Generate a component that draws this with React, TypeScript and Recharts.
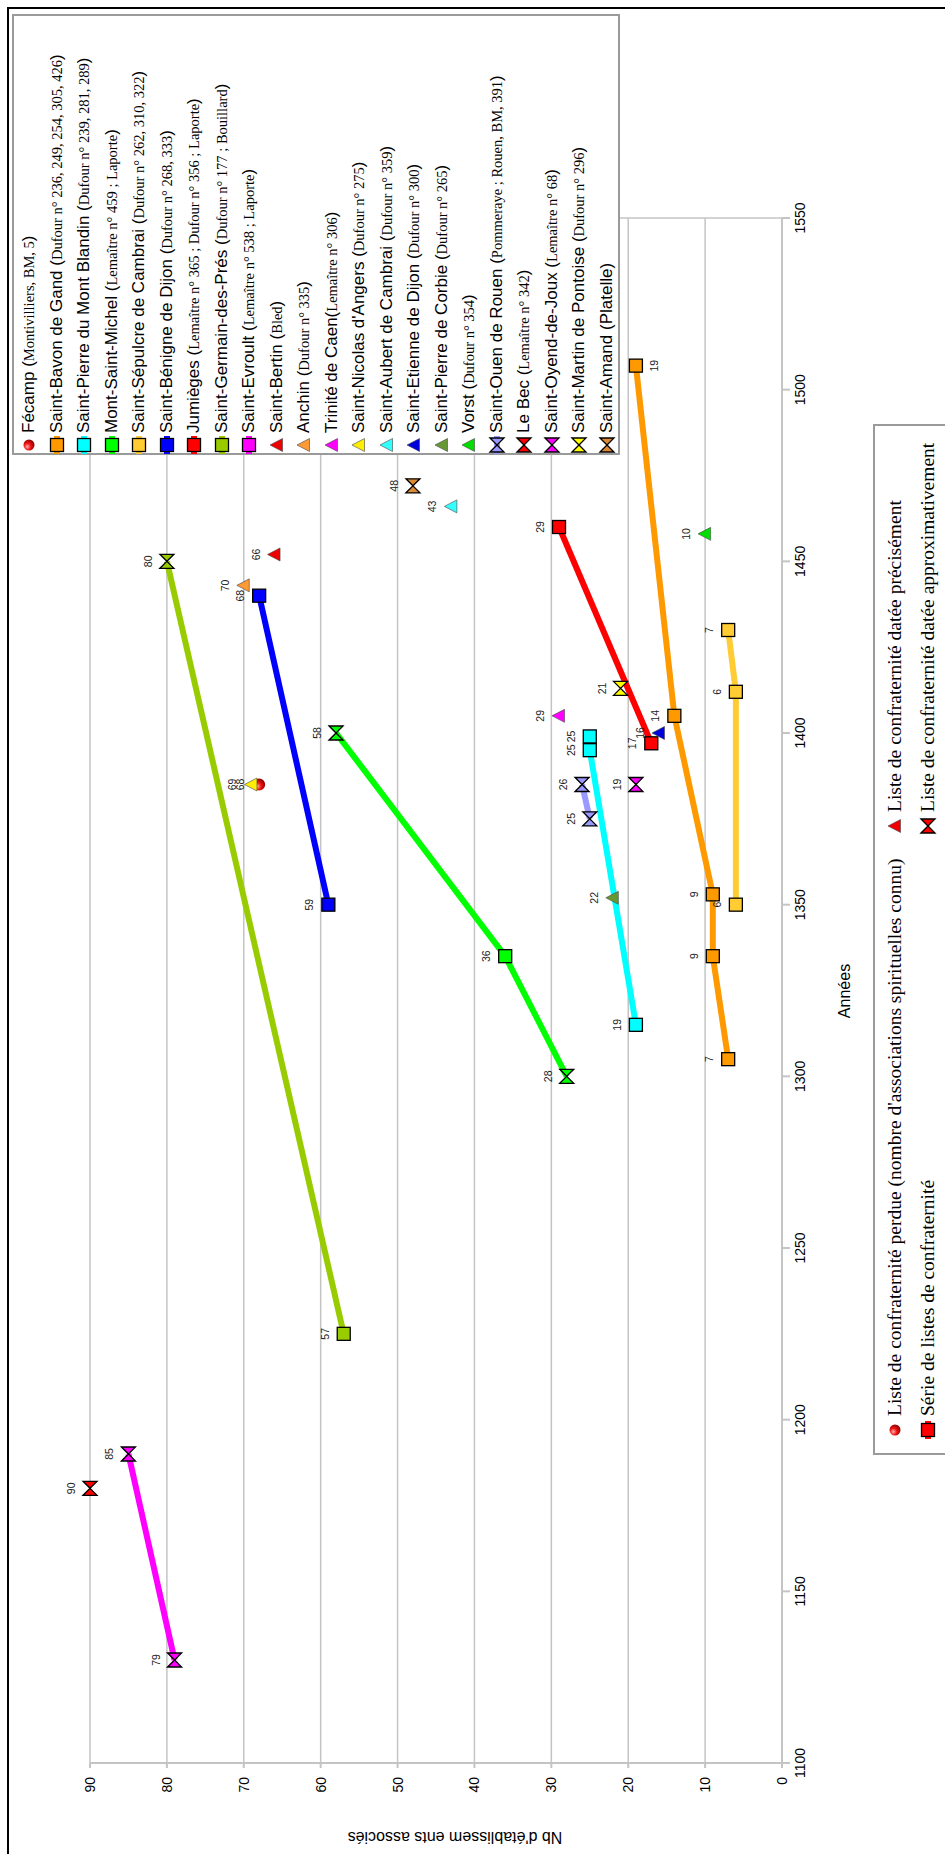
import React from "react";
import { ScatterChart, Scatter, XAxis, YAxis, CartesianGrid, ReferenceLine } from "recharts";

type Mark = "sq" | "hg" | "tri" | "dot";

// axes
const yearTicks = [1100, 1150, 1200, 1250, 1300, 1350, 1400, 1450, 1500, 1550];
const countTicks = [0, 10, 20, 30, 40, 50, 60, 70, 80, 90];

// séries (années / nombre d'établissements / type de marque)
const fecampYears = [1385];
const fecampCounts = [68];
const fecampMarks: Mark[] = ["dot"];

const bavonYears = [1305, 1335, 1353, 1405, 1507];
const bavonCounts = [7, 9, 9, 14, 19];
const bavonMarks: Mark[] = ["sq", "sq", "sq", "sq", "sq"];
const bavonLabelBelow = [false, false, false, false, true];

const blandinYears = [1315, 1395, 1399];
const blandinCounts = [19, 25, 25];
const blandinMarks: Mark[] = ["sq", "sq", "sq"];

const michelYears = [1300, 1335, 1400];
const michelCounts = [28, 36, 58];
const michelMarks: Mark[] = ["hg", "sq", "hg"];

const sepulcreYears = [1350, 1412, 1430];
const sepulcreCounts = [6, 6, 7];
const sepulcreMarks: Mark[] = ["sq", "sq", "sq"];

const benigneYears = [1350, 1440];
const benigneCounts = [59, 68];
const benigneMarks: Mark[] = ["sq", "sq"];

const jumiegesYears = [1397, 1460];
const jumiegesCounts = [17, 29];
const jumiegesMarks: Mark[] = ["sq", "sq"];

const germainYears = [1225, 1450];
const germainCounts = [57, 80];
const germainMarks: Mark[] = ["sq", "hg"];

const evroultYears = [1130, 1190];
const evroultCounts = [79, 85];
const evroultMarks: Mark[] = ["hg", "hg"];

const bertinYears = [1452];
const bertinCounts = [66];
const anchinYears = [1443];
const anchinCounts = [70];
const caenYears = [1405];
const caenCounts = [29];
const angersYears = [1385];
const angersCounts = [69];
const aubertYears = [1466];
const aubertCounts = [43];
const etienneYears = [1400];
const etienneCounts = [16];
const corbieYears = [1352];
const corbieCounts = [22];
const vorstYears = [1458];
const vorstCounts = [10];

const ouenYears = [1375, 1385];
const ouenCounts = [25, 26];
const ouenMarks: Mark[] = ["hg", "hg"];

const becYears = [1180];
const becCounts = [90];
const oyendYears = [1385];
const oyendCounts = [19];
const pontoiseYears = [1413];
const pontoiseCounts = [21];
const amandYears = [1472];
const amandCounts = [48];

type Serie = {
  name: string;
  detail: string;
  color: string;
  line: boolean;
  legendMark: Mark;
  years: number[];
  counts: number[];
  marks: Mark[];
  below?: boolean[];
};

const one = (m: Mark) => [m];

const series: Serie[] = [
  { name: "Fécamp", detail: "Montivilliers, BM, 5", color: "#e00000", line: false, legendMark: "dot", years: fecampYears, counts: fecampCounts, marks: fecampMarks },
  { name: "Saint-Bavon de Gand", detail: "Dufour n° 236, 249, 254, 305, 426", color: "#ff9900", line: true, legendMark: "sq", years: bavonYears, counts: bavonCounts, marks: bavonMarks, below: bavonLabelBelow },
  { name: "Saint-Pierre du Mont Blandin", detail: "Dufour n° 239, 281, 289", color: "#00ffff", line: true, legendMark: "sq", years: blandinYears, counts: blandinCounts, marks: blandinMarks },
  { name: "Mont-Saint-Michel", detail: "Lemaître n° 459 ; Laporte", color: "#00ff00", line: true, legendMark: "sq", years: michelYears, counts: michelCounts, marks: michelMarks },
  { name: "Saint-Sépulcre de Cambrai", detail: "Dufour n° 262, 310, 322", color: "#ffcc33", line: true, legendMark: "sq", years: sepulcreYears, counts: sepulcreCounts, marks: sepulcreMarks },
  { name: "Saint-Bénigne de Dijon", detail: "Dufour n° 268, 333", color: "#0000ff", line: true, legendMark: "sq", years: benigneYears, counts: benigneCounts, marks: benigneMarks },
  { name: "Jumièges", detail: "Lemaître n° 365 ; Dufour n° 356 ; Laporte", color: "#ff0000", line: true, legendMark: "sq", years: jumiegesYears, counts: jumiegesCounts, marks: jumiegesMarks },
  { name: "Saint-Germain-des-Prés", detail: "Dufour n° 177 ; Bouillard", color: "#99cc00", line: true, legendMark: "sq", years: germainYears, counts: germainCounts, marks: germainMarks },
  { name: "Saint-Evroult", detail: "Lemaître n° 538 ; Laporte", color: "#ff00ff", line: true, legendMark: "sq", years: evroultYears, counts: evroultCounts, marks: evroultMarks },
  { name: "Saint-Bertin", detail: "Bled", color: "#ee0000", line: false, legendMark: "tri", years: bertinYears, counts: bertinCounts, marks: one("tri") },
  { name: "Anchin", detail: "Dufour n° 335", color: "#ff9933", line: false, legendMark: "tri", years: anchinYears, counts: anchinCounts, marks: one("tri") },
  { name: "Trinité de Caen", detail: "Lemaître n° 306", color: "#ff00ff", line: false, legendMark: "tri", years: caenYears, counts: caenCounts, marks: one("tri") },
  { name: "Saint-Nicolas d'Angers", detail: "Dufour n° 275", color: "#ffee00", line: false, legendMark: "tri", years: angersYears, counts: angersCounts, marks: one("tri") },
  { name: "Saint-Aubert de Cambrai", detail: "Dufour n° 359", color: "#33ffff", line: false, legendMark: "tri", years: aubertYears, counts: aubertCounts, marks: one("tri") },
  { name: "Saint-Etienne de Dijon", detail: "Dufour n° 300", color: "#0000dd", line: false, legendMark: "tri", years: etienneYears, counts: etienneCounts, marks: one("tri") },
  { name: "Saint-Pierre de Corbie", detail: "Dufour n° 265", color: "#669933", line: false, legendMark: "tri", years: corbieYears, counts: corbieCounts, marks: one("tri") },
  { name: "Vorst", detail: "Dufour n° 354", color: "#00dd00", line: false, legendMark: "tri", years: vorstYears, counts: vorstCounts, marks: one("tri") },
  { name: "Saint-Ouen de Rouen", detail: "Pommeraye ; Rouen, BM, 391", color: "#9999ff", line: true, legendMark: "hg", years: ouenYears, counts: ouenCounts, marks: ouenMarks },
  { name: "Le Bec", detail: "Lemaître n° 342", color: "#ff0000", line: false, legendMark: "hg", years: becYears, counts: becCounts, marks: one("hg") },
  { name: "Saint-Oyend-de-Joux", detail: "Lemaître n° 68", color: "#ff00ff", line: false, legendMark: "hg", years: oyendYears, counts: oyendCounts, marks: one("hg") },
  { name: "Saint-Martin de Pontoise", detail: "Dufour n° 296", color: "#ffff00", line: false, legendMark: "hg", years: pontoiseYears, counts: pontoiseCounts, marks: one("hg") },
  { name: "Saint-Amand", detail: "Platelle", color: "#dd8833", line: false, legendMark: "hg", years: amandYears, counts: amandCounts, marks: one("hg") },
];

const typeLegend = [
  { mark: "dot" as Mark, color: "#e00000", label: "Liste de confraternité perdue (nombre d'associations spirituelles connu)" },
  { mark: "sq" as Mark, color: "#ff0000", label: "Série de listes de confraternité" },
  { mark: "tri" as Mark, color: "#ee0000", label: "Liste de confraternité datée précisément" },
  { mark: "hg" as Mark, color: "#ff0000", label: "Liste de confraternité datée approximativement" },
];

const SANS = "Arial, 'Liberation Sans', sans-serif";
const SERIF = "'Times New Roman', 'Liberation Serif', serif";

function drawMark(kind: Mark, cx: number, cy: number, color: string) {
  if (kind === "sq") {
    return <rect x={cx - 6.5} y={cy - 6.5} width={13} height={13} fill={color} stroke="#000" strokeWidth={1.3} />;
  }
  if (kind === "hg") {
    const d = `M${cx - 7},${cy - 7} L${cx},${cy} L${cx - 7},${cy + 7} Z M${cx + 7},${cy - 7} L${cx},${cy} L${cx + 7},${cy + 7} Z`;
    return <path d={d} fill={color} stroke="#000" strokeWidth={1.3} strokeLinejoin="miter" />;
  }
  if (kind === "tri") {
    const d = `M${cx},${cy - 7} L${cx + 6.5},${cy + 5.5} L${cx - 6.5},${cy + 5.5} Z`;
    return <path d={d} fill={color} stroke="#444" strokeWidth={0.6} />;
  }
  return <circle cx={cx} cy={cy} r={6} fill="url(#redSphere)" />;
}

const makeShape = (color: string) => (props: any) => {
  const { cx, cy, payload } = props;
  const ty = payload.below ? cy + 22 : cy - 15;
  return (
    <g>
      {drawMark(payload.m, cx, cy, color)}
      <text x={cx} y={ty} textAnchor="middle" fontSize={10.5} fontFamily={SANS} fill="#222">
        {payload.y}
      </text>
    </g>
  );
};

function LegendIcon({ kind, color, line }: { kind: Mark; color: string; line?: boolean }) {
  return (
    <svg width={18} height={18} style={{ display: "block" }}>
      <defs>
        <radialGradient id={"lg" + color.slice(1)} cx="35%" cy="35%" r="70%">
          <stop offset="0%" stopColor="#ffb0b0" />
          <stop offset="45%" stopColor="#ee1111" />
          <stop offset="100%" stopColor="#880000" />
        </radialGradient>
      </defs>
      {line ? <line x1={0} y1={9} x2={18} y2={9} stroke={color} strokeWidth={6} /> : null}
      {kind === "dot" ? (
        <circle cx={9} cy={9} r={5.5} fill={"url(#lg" + color.slice(1) + ")"} />
      ) : (
        drawMark(kind, 9, 9, color)
      )}
    </svg>
  );
}

export default function App() {
  const W = 1854;
  const H = 945;
  return (
    <div style={{ position: "absolute", left: 0, top: 0, width: 945, height: 1854, overflow: "hidden", background: "#fff" }}>
      <div
        style={{
          position: "absolute",
          left: 0,
          top: 0,
          width: W,
          height: H,
          transformOrigin: "0 0",
          transform: `translateY(${W}px) rotate(-90deg)`,
          fontFamily: SANS,
          background: "#fff",
        }}
      >
        <ScatterChart width={W} height={H} margin={{ top: 90, right: 218, bottom: 123, left: 41 }}>
          <defs>
            <radialGradient id="redSphere" cx="35%" cy="35%" r="70%">
              <stop offset="0%" stopColor="#ffb0b0" />
              <stop offset="45%" stopColor="#ee1111" />
              <stop offset="100%" stopColor="#880000" />
            </radialGradient>
          </defs>
          <CartesianGrid vertical={false} stroke="#c4c4c4" strokeWidth={1.5} />
          <XAxis
            type="number"
            dataKey="x"
            domain={[1100, 1550]}
            ticks={yearTicks}
            height={40}
            stroke="#c4c4c4"
            strokeWidth={2}
            tickSize={8}
            tickMargin={5}
            tick={{ fill: "#000", fontSize: 14, fontFamily: SANS }}
          />
          <YAxis
            type="number"
            dataKey="y"
            domain={[0, 90]}
            ticks={countTicks}
            width={50}
            stroke="#c4c4c4"
            strokeWidth={2}
            tickSize={5}
            tickMargin={9}
            tick={{ fill: "#000", fontSize: 14, fontFamily: SANS }}
          />
          <ReferenceLine x={1550} stroke="#c4c4c4" strokeWidth={1.5} />
          {series.map((s) => (
            <Scatter
              key={s.name}
              name={s.name}
              data={s.years.map((yr, i) => ({ x: yr, y: s.counts[i], m: s.marks[i], below: s.below ? s.below[i] : false }))}
              fill={s.color}
              line={s.line ? { stroke: s.color, strokeWidth: 6 } : false}
              shape={makeShape(s.color)}
              isAnimationActive={false}
            />
          ))}
        </ScatterChart>

        {/* titres des axes */}
        <div style={{ position: "absolute", left: 863, top: 845, transform: "translate(-50%, -50%)", fontSize: 16, whiteSpace: "nowrap" }}>
          Années
        </div>
        <div
          style={{
            position: "absolute",
            left: 17,
            top: 455,
            transform: "translate(-50%, -50%) rotate(-90deg)",
            fontSize: 16,
            whiteSpace: "nowrap",
          }}
        >
          Nb d'établissem ents associés
        </div>

        {/* légende des établissements */}
        <div
          style={{
            position: "absolute",
            left: 1399,
            top: 12,
            width: 441,
            height: 608,
            boxSizing: "border-box",
            border: "2px solid #9a9a9a",
            background: "#fff",
          }}
        >
          {series.map((s, i) => (
            <div
              key={s.name}
              style={{ position: "absolute", left: -1, top: 2 + i * 27.5, height: 26, display: "flex", alignItems: "center", whiteSpace: "nowrap" }}
            >
              <LegendIcon kind={s.legendMark} color={s.color} line={s.line} />
              <span style={{ marginLeft: 3, fontSize: 17, fontFamily: SANS, color: "#000" }}>
                {s.name}
                {s.name === "Trinité de Caen" ? "(" : " ("}
                {s.detail === "Platelle" ? (
                  s.detail
                ) : (
                  <span style={{ fontFamily: SERIF, fontSize: 14.5 }}>{s.detail}</span>
                )}
                )
              </span>
            </div>
          ))}
        </div>

        {/* légende des types de listes */}
        <div
          style={{
            position: "absolute",
            left: 399,
            top: 873,
            width: 1031,
            height: 120,
            boxSizing: "border-box",
            border: "2px solid #9a9a9a",
            background: "#fff",
          }}
        >
          {typeLegend.map((t, i) => (
            <div
              key={t.label}
              style={{
                position: "absolute",
                left: i < 2 ? 14 : 618,
                top: 8 + (i % 2) * 33,
                height: 24,
                display: "flex",
                alignItems: "center",
                whiteSpace: "nowrap",
              }}
            >
              <LegendIcon kind={t.mark} color={t.color} line={t.mark === "sq"} />
              <span style={{ marginLeft: 5, fontSize: 19.5, fontFamily: SERIF, color: "#000" }}>{t.label}</span>
            </div>
          ))}
        </div>

        {/* cadre */}
        <div
          style={{
            position: "absolute",
            left: -10,
            top: 7,
            width: 1857,
            height: 1000,
            boxSizing: "border-box",
            border: "2px solid #000",
            pointerEvents: "none",
          }}
        />
      </div>
    </div>
  );
}
